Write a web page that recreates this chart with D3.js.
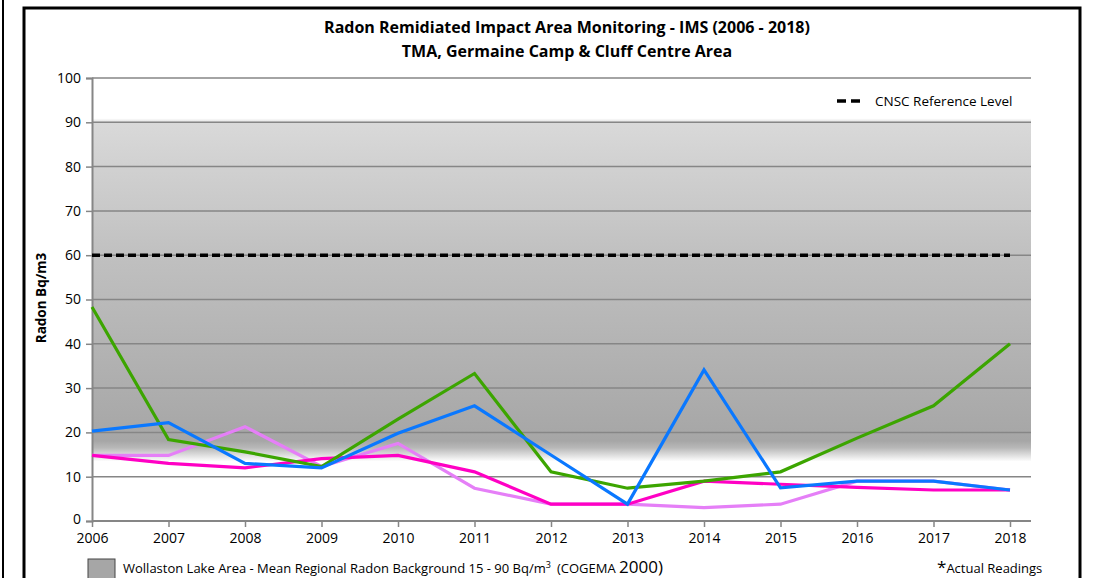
<!DOCTYPE html>
<meta charset="utf-8">
<style>
  body { margin: 0; background: #fff; }
  svg text { font-family: "Open Sans", "Noto Sans", sans-serif; }
</style>
<script src="https://d3js.org/d3.v7.min.js"></script>
<body>
<script>

var width = 1095,
    height = 578;

// years on the x axis
var years = [2006, 2007, 2008, 2009, 2010, 2011, 2012, 2013, 2014, 2015, 2016, 2017, 2018];
var yTicks = [0, 10, 20, 30, 40, 50, 60, 70, 80, 90, 100];

// readings (Bq/m3), one array per monitoring station
var greenVals   = [48.3, 18.4, 15.6, 12.3, 23.0, 33.3, 11.1, 7.4, 9.0, 11.1, 18.7, 26.0, 40.0];
var blueVals    = [20.3, 22.2, 13.0, 12.0, 19.8, 26.0, 14.9, 3.8, 34.1, 7.5, 9.0, 9.0, 7.0];
var violetVals  = [14.8, 14.8, 21.3, 12.3, 17.5, 7.4, 3.8, 3.8, 3.0, 3.8, 9.0, 9.0, 7.0];
var magentaVals = [14.8, 13.0, 12.0, 14.1, 14.8, 11.1, 3.8, 3.8, 9.0, 8.3, 7.6, 7.0, 7.0];

var referenceLevel = 60;
var backgroundBand = [15, 90];

var series = [
  {name: "violet",  color: "#e57ff7", values: violetVals},
  {name: "magenta", color: "#ff00c4", values: magentaVals},
  {name: "green",   color: "#3ca500", values: greenVals},
  {name: "blue",    color: "#0a78ff", values: blueVals}
];

var svg = d3.select("body").append("svg")
    .attr("width", width)
    .attr("height", height);

var x = d3.scaleLinear().domain([2006, 2018]).range([92, 1010]);
var y = d3.scaleLinear().domain([0, 100]).range([521, 78]);
var plotRight = 1031;

// outer frame
svg.append("line").attr("x1", 3).attr("x2", 3).attr("y1", 0).attr("y2", height)
    .attr("stroke", "#000").attr("stroke-width", 2);
svg.append("rect")
    .attr("x", 24).attr("y", 8)
    .attr("width", 1056).attr("height", 600)
    .attr("fill", "#fff")
    .attr("stroke", "#000").attr("stroke-width", 3);

// gradient for background band (15 - 90)
var defs = svg.append("defs");
var grad = defs.append("linearGradient")
    .attr("id", "bandGrad")
    .attr("x1", "0%").attr("x2", "0%")
    .attr("y1", "0%").attr("y2", "100%");
grad.selectAll("stop").data([
    {o: "0%", c: "#ffffff"},
    {o: "1.3%", c: "#d9d9d9"},
    {o: "40%", c: "#c0c0c0"},
    {o: "94%", c: "#a6a6a6"},
    {o: "96%", c: "#b8b8b8"},
    {o: "100%", c: "#ffffff"}
  ]).enter().append("stop")
    .attr("offset", function(d) { return d.o; })
    .attr("stop-color", function(d) { return d.c; });

svg.append("rect")
    .attr("x", x(2006))
    .attr("y", y(backgroundBand[1]) - 4)
    .attr("width", plotRight - x(2006))
    .attr("height", y(backgroundBand[0]) - y(backgroundBand[1]) + 11)
    .attr("fill", "url(#bandGrad)");

// gridlines
svg.append("g").selectAll("line").data(yTicks.slice(1)).enter().append("line")
    .attr("x1", x(2006)).attr("x2", plotRight)
    .attr("y1", function(d) { return y(d); })
    .attr("y2", function(d) { return y(d); })
    .attr("stroke", "#868686").attr("stroke-width", 1.5);

// y axis
var yAxis = svg.append("g")
    .attr("transform", "translate(" + x(2006) + ",0)")
    .call(d3.axisLeft(y).tickValues(yTicks).tickSize(6).tickPadding(5));
yAxis.select(".domain").attr("stroke", "#868686").attr("stroke-width", 2);
yAxis.selectAll(".tick line").attr("stroke", "#868686").attr("stroke-width", 1.5);
yAxis.selectAll(".tick text").attr("font-size", 14).attr("fill", "#000")
    .attr("font-family", "Open Sans");
yAxis.selectAll(".tick text").filter(function(d) { return d === 0; }).attr("dy", "0.2em");

// x axis
var xAxis = svg.append("g")
    .attr("transform", "translate(0," + y(0) + ")")
    .call(d3.axisBottom(x).tickValues(years).tickFormat(d3.format("d")).tickSize(6).tickPadding(6));
xAxis.select(".domain").attr("d", "M" + x(2006) + ",0H" + plotRight)
    .attr("stroke", "#868686").attr("stroke-width", 2);
xAxis.selectAll(".tick line").attr("stroke", "#868686").attr("stroke-width", 1.5);
xAxis.selectAll(".tick text").attr("font-size", 14).attr("fill", "#000")
    .attr("font-family", "Open Sans");

// reference level
svg.append("line")
    .attr("x1", x(2006)).attr("x2", x(2018))
    .attr("y1", y(referenceLevel)).attr("y2", y(referenceLevel))
    .attr("stroke", "#000").attr("stroke-width", 3.5)
    .attr("stroke-dasharray", "8,4");

// data lines
var line = d3.line()
    .x(function(d, i) { return x(years[i]); })
    .y(function(d) { return y(d); });

svg.append("g").selectAll("path").data(series).enter().append("path")
    .attr("d", function(d) { return line(d.values); })
    .attr("fill", "none")
    .attr("stroke", function(d) { return d.color; })
    .attr("stroke-width", 3.2)
    .attr("stroke-linejoin", "miter");

// titles
svg.append("text")
    .attr("x", 567).attr("y", 33)
    .attr("text-anchor", "middle")
    .attr("font-size", 16).attr("font-weight", "bold")
    .text("Radon Remidiated Impact Area Monitoring - IMS (2006 - 2018)");
svg.append("text")
    .attr("x", 567).attr("y", 57)
    .attr("text-anchor", "middle")
    .attr("font-size", 16).attr("font-weight", "bold")
    .text("TMA, Germaine Camp & Cluff Centre Area");

svg.append("text")
    .attr("transform", "translate(46,298) rotate(-90)")
    .attr("text-anchor", "middle")
    .attr("font-size", 13.5).attr("font-weight", "bold")
    .text("Radon Bq/m3");

// legend for reference line
svg.append("rect")
    .attr("x", 825).attr("y", 87).attr("width", 200).attr("height", 28)
    .attr("fill", "#fff");
svg.append("line")
    .attr("x1", 837).attr("x2", 863).attr("y1", 101).attr("y2", 101)
    .attr("stroke", "#000").attr("stroke-width", 3.5)
    .attr("stroke-dasharray", "9,5");
svg.append("text")
    .attr("x", 875).attr("y", 106)
    .attr("font-size", 13.5)
    .text("CNSC Reference Level");

// bottom legend
svg.append("rect")
    .attr("x", 88).attr("y", 559).attr("width", 27).attr("height", 22)
    .attr("fill", "#a6a6a6").attr("stroke", "#444").attr("stroke-width", 1);
var bl = svg.append("text")
    .attr("x", 123).attr("y", 573)
    .attr("font-size", 13);
bl.append("tspan").text("Wollaston Lake Area - Mean Regional Radon Background 15 - 90 Bq/m");
bl.append("tspan").attr("font-size", 9).attr("dy", -5).text("3");
bl.append("tspan").attr("dy", 5).attr("font-size", 13).attr("dx", 6).text("(COGEMA ");
bl.append("tspan").attr("font-size", 17).text("2000)");

var ar = svg.append("text")
    .attr("x", 937).attr("y", 573)
    .attr("font-size", 13);
ar.append("tspan").attr("font-size", 17).text("*");
ar.append("tspan").text("Actual Readings");

</script>
</body>
